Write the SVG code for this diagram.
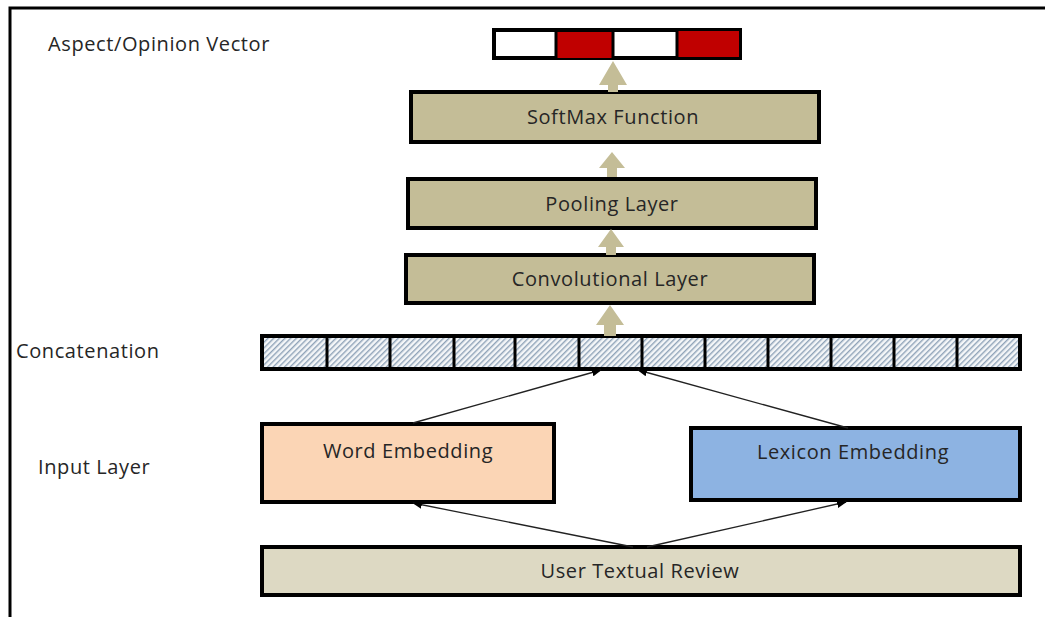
<svg xmlns="http://www.w3.org/2000/svg" width="1045" height="617" viewBox="0 0 1045 617">
<style>
  text{font-family:"Open Sans","Liberation Sans",sans-serif;font-size:20px;letter-spacing:0.6px;fill:#262626}
  .c{text-anchor:middle}
  .box{stroke:#000;stroke-width:4}
  .tan{fill:#C4BD97}
  .fat{fill:#C4BD97}
  .thin{stroke:#222;stroke-width:1.3;fill:none;marker-end:url(#ah)}
</style>
<defs>
  <pattern id="hatch" patternUnits="userSpaceOnUse" width="4" height="4" patternTransform="rotate(45)">
    <rect width="4" height="4" fill="#F4F6F8"/>
    <rect width="1.4" height="4" fill="#8FA3B8"/>
  </pattern>
  <marker id="ah" markerWidth="10" markerHeight="8" refX="9" refY="4" orient="auto" markerUnits="userSpaceOnUse">
    <path d="M0,0 L10,4 L0,8 z" fill="#000"/>
  </marker>
</defs>
<rect width="1045" height="617" fill="#fff"/>
<path d="M10,617 V8 H1045" fill="none" stroke="#000" stroke-width="3"/>

<g id="labels">
  <text x="48" y="51">Aspect/Opinion Vector</text>
  <text x="16" y="358">Concatenation</text>
  <text x="38" y="474">Input Layer</text>
</g>

<g id="vector">
  <rect x="494" y="30" width="246" height="28" fill="#fff" stroke="#000" stroke-width="4"/>
  <rect x="556" y="31" width="57" height="28" fill="#C00000" stroke="#000" stroke-width="2"/>
  <rect x="678" y="31" width="61" height="26" fill="#C00000"/>
  <path d="M556,30 V58 M613,30 V58 M677,30 V58" stroke="#000" stroke-width="3"/>
</g>

<g id="softmax">
  <rect class="box tan" x="411" y="92" width="408" height="50"/>
  <text class="c" x="613" y="124">SoftMax Function</text>
</g>
<g id="pooling">
  <rect class="box tan" x="408" y="179" width="408" height="49"/>
  <text class="c" x="612" y="211">Pooling Layer</text>
</g>
<g id="conv">
  <rect class="box tan" x="406" y="255" width="408" height="48"/>
  <text class="c" x="610" y="286">Convolutional Layer</text>
</g>

<g id="concatenation">
  <rect x="262" y="336" width="758" height="33" fill="url(#hatch)" stroke="#000" stroke-width="4"/>
  <path d="M327,336 V369 M390,336 V369 M454,336 V369 M515,336 V369 M579,336 V369 M642,336 V369 M705,336 V369 M768,336 V369 M831,336 V369 M894,336 V369 M957,336 V369" stroke="#000" stroke-width="3"/>
</g>

<g id="word">
  <rect class="box" x="262" y="424" width="292" height="78" fill="#FBD5B5"/>
  <text class="c" x="408" y="458">Word Embedding</text>
</g>
<g id="lexicon">
  <rect class="box" x="691" y="428" width="329" height="72" fill="#8DB3E2"/>
  <text class="c" x="853" y="459">Lexicon Embedding</text>
</g>
<g id="review">
  <rect class="box" x="262" y="547" width="758" height="48" fill="#DDD9C3"/>
  <text class="c" x="640" y="578">User Textual Review</text>
</g>

<g id="connectors">
  <path class="fat" d="M608,92 V85 H599 L613,61 L627,85 H618 V92 z"/>
  <path class="fat" d="M607,177 V168 H599 L612,152 L625,168 H617 V177 z"/>
  <path class="fat" d="M606,255 V247 H598 L611,229 L624,247 H616 V255 z"/>
  <path class="fat" d="M604,336 V325 H596 L610,305 L624,325 H616 V336 z"/>
  <path class="thin" d="M413,423 L601,370"/>
  <path class="thin" d="M848,428 L638,370"/>
  <path class="thin" d="M633,547 L413,503"/>
  <path class="thin" d="M647,547 L846,502"/>
</g>
</svg>
